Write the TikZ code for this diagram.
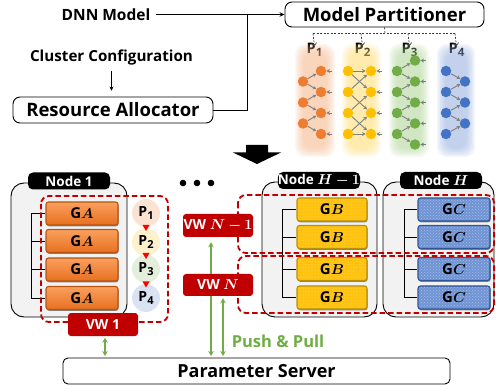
\documentclass[tikz,border=0pt]{standalone}
\usepackage{fontspec}
\usepackage{bm}
\setmainfont{Open Sans}
\usetikzlibrary{arrows.meta,shadows,patterns}

\definecolor{vwred}{HTML}{C00000}
\definecolor{ppgreen}{HTML}{70AD47}
\definecolor{nnorange}{HTML}{ED7D31}
\definecolor{nnyellow}{HTML}{FFC000}
\definecolor{nngreen}{HTML}{70AD47}
\definecolor{nnblue}{HTML}{4472C4}
\definecolor{nngray}{HTML}{7F7F7F}
\definecolor{nodebg}{HTML}{F2F2F2}
\definecolor{gatop}{HTML}{F9A05E}
\definecolor{gabot}{HTML}{E8701F}
\definecolor{gaedge}{HTML}{B85410}
\definecolor{gbfill}{HTML}{FFC20E}
\definecolor{gbdot}{HTML}{FFDC6A}
\definecolor{gbedge}{HTML}{B8900A}
\definecolor{gcfill}{HTML}{6F93D3}
\definecolor{gcdot}{HTML}{A9C0EA}
\definecolor{gcedge}{HTML}{2F5597}
\definecolor{pc1}{HTML}{FBE3D4}
\definecolor{pc2}{HTML}{FFF1CC}
\definecolor{pc3}{HTML}{E3EFDA}
\definecolor{pc4}{HTML}{DAE3F3}
\definecolor{glow1}{HTML}{F4B183}
\definecolor{glow2}{HTML}{FFD966}
\definecolor{glow3}{HTML}{A9D18E}
\definecolor{glow4}{HTML}{8FAADC}

\newcommand{\fsz}[1]{\fontsize{#1}{#1}\selectfont}
% soft, faded column behind one partition
\newcommand{\softcol}[5]{%
  \foreach \k in {0,1,2,3,4,5}{%
    \fill[#5, fill opacity=0.12, rounded corners=10pt]
      ({#1+\k*1.6},{#2+\k*1.6}) rectangle ({#3-\k*1.6},{#4-\k*1.6});
  }}

\tikzset{
  txt/.style={inner sep=0, font=\bfseries\fsz{#1}},
  roundbox/.style={draw=black, line width=0.9pt, rounded corners=7pt, fill=white},
  flowline/.style={draw=black, line width=0.8pt},
  partdash/.style={draw=black!75, line width=0.7pt, dash pattern=on 2pt off 1.5pt},
  nn/.style={circle, minimum size=10.5pt, inner sep=0},
  nnarrow/.style={draw=nngray, line width=0.9pt, -{Stealth[length=3.5pt,width=4pt]}},
  nodebox/.style={draw=black, fill=nodebg, line width=0.9pt, rounded corners=13pt},
  nodelabel/.style={fill=black, text=white, rounded corners=5pt, minimum width=82pt,
    minimum height=17pt, inner sep=0, font=\bfseries\fsz{13.5}},
  gbox/.style={rounded corners=2.5pt, minimum width=#1, minimum height=23pt, inner sep=0,
    line width=1.1pt, font=\bfseries\fsz{15},
    drop shadow={shadow xshift=0.6pt, shadow yshift=-1.3pt, opacity=0.45, fill=black}},
  gA/.style={gbox=72pt, draw=gaedge, top color=gatop, bottom color=gabot},
  gB/.style={gbox=70pt, draw=gbedge, preaction={fill=gbfill}, pattern=dots, pattern color=gbdot},
  gC/.style={gbox=72pt, draw=gcedge, preaction={fill=gcfill}, pattern=crosshatch dots, pattern color=gcdot},
  brk/.style={draw=black, line width=0.9pt},
  reddash/.style={draw=vwred, line width=1.8pt, dash pattern=on 5.5pt off 3pt, rounded corners=8pt},
  pcirc/.style={circle, minimum size=28pt, inner sep=0, font=\bfseries\fsz{14}},
  vwbox/.style={fill=vwred, text=white, rounded corners=3pt, minimum width=70pt,
    minimum height=23pt, inner sep=0, font=\bfseries\fsz{14}},
  garrow/.style={draw=ppgreen, line width=1.6pt,
    {Stealth[length=5pt,width=5.5pt]}-{Stealth[length=5pt,width=5.5pt]}},
}

\begin{document}
\begin{tikzpicture}[x=1pt,y=-1pt]
\useasboundingbox (0,0) rectangle (496,385);

% ---------------- planning stage ----------------
\node[txt=15.5] (dnn) at (106,14.5) {DNN Model};
\node[txt=15.2] (cluster) at (111.5,58) {Cluster Configuration};
\node[roundbox, txt=18.5, minimum width=200pt, minimum height=26pt] (alloc) at (113,110) {Resource Allocator};
\node[roundbox, txt=18.5, minimum width=199pt, minimum height=25pt] (part) at (384.5,14.5) {Model Partitioner};
\coordinate (jn) at (247,14.5);

\draw[flowline, -{Stealth[length=5pt,width=4.5pt]}] ([xshift=5pt]dnn.east) -- (part.west);
\draw[flowline] (alloc.east) -| (jn);
\draw[flowline, -{Stealth[length=4pt,width=4pt]}, shorten <=5pt, shorten >=6pt]
  (cluster.south) -- (cluster.south |- alloc.north);

% partition fan-out
\coordinate (tap) at (385,33.5);
\foreach \i/\x in {1/313,2/361,3/408,4/455}{
  \coordinate (d\i) at (\x,33.5);
  \node[txt=14.5] (lp\i) at (\x+1.5,50) {P\raisebox{-2.5pt}{\fsz{11.5}\i}};
}
\draw[partdash] (part.south) -- (tap);
\draw[partdash] (d1) -- (d4);
\foreach \i in {1,...,4}
  \draw[partdash, -{Straight Barb[length=3pt,width=5pt]}]
    (d\i) -- ([yshift=-3pt]lp\i.north);

% faded partition columns
\softcol{295}{44}{335}{157}{glow1}
\softcol{342}{44}{381}{157}{glow2}
\softcol{389}{44}{429}{157}{glow3}
\softcol{437}{44}{475}{157}{glow4}

% partition 1
\foreach \i/\y in {1/81.5,2/102.5,3/123.5} \node[nn, fill=nnorange] (aL\i) at (303,\y) {};
\foreach \i/\y in {1/71,2/92,3/113,4/134} \node[nn, fill=nnorange] (aR\i) at (321,\y) {};
\foreach \i in {1,2,3}{
  \pgfmathtruncatemacro\j{\i+1}
  \draw[nnarrow] (aL\i) -- (aR\i);
  \draw[nnarrow] (aL\i) -- (aR\j);
}
\foreach \i in {1,...,4} \draw[nnarrow] ([xshift=6pt]aR\i.east) -- (aR\i.east);

% partition 2
\foreach \i/\y in {1/71,2/92,3/113,4/134}{
  \node[nn, fill=nnyellow] (bL\i) at (348,\y) {};
  \node[nn, fill=nnyellow] (bR\i) at (371,\y) {};
}
\foreach \i in {1,2,3}{
  \pgfmathtruncatemacro\j{\i+1}
  \draw[nnarrow] (bL\i) -- (bR\j);
  \draw[nnarrow] (bL\j) -- (bR\i);
}
\draw[nnarrow] (bL1) -- (bR1);
\draw[nnarrow] (bL4) -- (bR4);
\foreach \i in {1,...,4} \draw[nnarrow] ([xshift=6pt]bR\i.east) -- (bR\i.east);

% partition 3
\foreach \i/\y in {1/71,2/92,3/113,4/134} \node[nn, fill=nngreen] (cL\i) at (397,\y) {};
\foreach \i/\y in {1/60.5,2/81.5,3/102.5,4/123.5,5/144.5} \node[nn, fill=nngreen] (cR\i) at (415,\y) {};
\foreach \i in {1,...,4}{
  \pgfmathtruncatemacro\j{\i+1}
  \draw[nnarrow] (cL\i) -- (cR\i);
  \draw[nnarrow] (cL\i) -- (cR\j);
}
\foreach \i in {1,...,5} \draw[nnarrow] ([xshift=6pt]cR\i.east) -- (cR\i.east);

% partition 4
\foreach \i/\y in {1/71,2/92,3/113,4/134} \node[nn, fill=nnblue] (dL\i) at (446,\y) {};
\foreach \i/\y in {1/81.5,2/102.5,3/123.5} \node[nn, fill=nnblue] (dR\i) at (465,\y) {};
\foreach \i in {1,2,3}{
  \pgfmathtruncatemacro\j{\i+1}
  \draw[nnarrow] (dL\i) -- (dR\i);
  \draw[nnarrow] (dL\j) -- (dR\i);
}

% stage arrow
\fill[black] (246,145) -- (268,145) -- (268,152.5) -- (281,152.5) -- (257,164)
  -- (233,152.5) -- (246,152.5) -- cycle;

% ---------------- cluster ----------------
\foreach \x in {183,197,211} \fill[black] (\x,183) circle (3.3pt);

\draw[nodebox] (11,183) rectangle (127,317);
\draw[nodebox] (262,182) rectangle (377,317);
\draw[nodebox] (383,182) rectangle (494,317);
\node[nodelabel] (n1) at (69,181) {Node 1};
\node[nodelabel] (nh1) at (319,180.5) {Node $\bm{H-1}$};
\node[nodelabel] (nh) at (441,180.5) {Node $\bm{H}$};

\foreach \i/\y in {1/213.5,2/241,3/269.5,4/298} \node[gA] (ga\i) at (82,\y) {G$\bm{A}$};
\foreach \i/\y in {1/209.5,2/237,3/269,4/297.5}{
  \node[gB] (gb\i) at (332,\y) {G$\bm{B}$};
  \node[gC] (gc\i) at (454,\y) {G$\bm{C}$};
}

\draw[brk] (ga1.west) -| ([xshift=-14pt]ga4.west) -- (ga4.west);
\draw[brk] (ga2.west) -- ++(-14,0);
\draw[brk] (ga3.west) -- ++(-14,0);
\draw[brk] (gb1.west) -| ([xshift=-14pt]gb4.west) -- (gb4.west);
\draw[brk] (gb2.west) -- ++(-14,0);
\draw[brk] (gb3.west) -- ++(-14,0);
\draw[brk] (gc1.west) -| ([xshift=-13pt]gc4.west) -- (gc4.west);
\draw[brk] (gc2.west) -- ++(-13,0);
\draw[brk] (gc3.west) -- ++(-13,0);

% virtual workers
\draw[reddash] (41,196) rectangle (168,322);
\draw[reddash] (238,195) rectangle (494,253);
\draw[reddash] (238,256) rectangle (494,313);

\node[pcirc, fill=pc1] (pp1) at (146,213) {P\raisebox{-2.5pt}{\fsz{11}1}};
\node[pcirc, fill=pc2] (pp2) at (146,242) {P\raisebox{-2.5pt}{\fsz{11}2}};
\node[pcirc, fill=pc3] (pp3) at (146,269) {P\raisebox{-2.5pt}{\fsz{11}3}};
\node[pcirc, fill=pc4] (pp4) at (146,298) {P\raisebox{-2.5pt}{\fsz{11}4}};
\foreach \y in {225,253,281.5}
  \fill[red] (142.5,\y) -- (149.5,\y) -- (146,\y+6) -- cycle;

\node[vwbox] (vw1) at (103,324.5) {VW 1};
\node[vwbox] (vwn1) at (218,225.5) {VW $\bm{N-1}$};

% parameter server and push/pull
\node[roundbox, txt=18, rounded corners=5pt, minimum width=387pt, minimum height=26pt] (ps) at (256.5,371) {Parameter Server};

\draw[garrow, shorten <=5pt, shorten >=1.5pt] ([xshift=-7pt]vwn1.south) -- ([xshift=-7pt]vwn1.south |- ps.north);
\node[vwbox, minimum height=22pt] (vwn) at (218,285) {VW $\bm{N}$};
\draw[garrow, shorten <=2pt, shorten >=1.5pt] ([xshift=5pt]vwn.south) -- ([xshift=5pt]vwn.south |- ps.north);
\draw[garrow, shorten <=1.5pt, shorten >=1.5pt] ([xshift=2pt]vw1.south) -- ([xshift=2pt]vw1.south |- ps.north);

\node[txt=16.5, text=ppgreen] (push) at (278,341) {Push \& Pull};
\end{tikzpicture}
\end{document}
